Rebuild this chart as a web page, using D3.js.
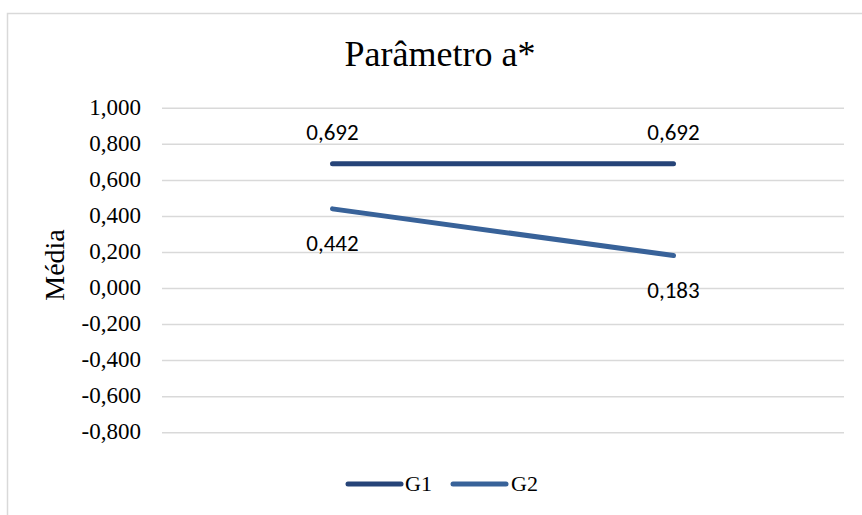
<!DOCTYPE html>
<html>
<head>
<meta charset="utf-8">
<script src="https://cdn.jsdelivr.net/npm/d3@7"></script>
<style>
  html, body { margin: 0; padding: 0; background: #fff; }
  svg { display: block; }
  .serif { font-family: "Liberation Serif", "Times New Roman", "DejaVu Serif", serif; }
  .sans { font-family: Carlito, "Liberation Sans", "Noto Sans", sans-serif; }
</style>
</head>
<body>
<script>
// Chart data
const categories = ["Pré", "Pós"];
const seriesNames = ["G1", "G2"];
const g1Values = [0.692, 0.692];
const g2Values = [0.442, 0.183];
const yTicks = [1.0, 0.8, 0.6, 0.4, 0.2, 0.0, -0.2, -0.4, -0.6, -0.8];
const colors = ["#264478", "#386299"];

const W = 862, H = 515;
const svg = d3.select("body").append("svg").attr("width", W).attr("height", H);

// Outer chart frame
svg.append("rect")
  .attr("x", 7.5).attr("y", 13.5)
  .attr("width", 880).attr("height", 520)
  .attr("fill", "#fff").attr("stroke", "#d9d9d9").attr("stroke-width", 1.5);

const plot = { left: 162, right: 844, top: 108.3, bottom: 432.7 };

const x = d3.scaleBand().domain(categories).range([plot.left, plot.right]);
const y = d3.scaleLinear().domain([-0.8, 1.0]).range([plot.bottom, plot.top]);
const fmt = v => d3.format(".3f")(v).replace(".", ",").replace("−", "-");

// Gridlines
svg.append("g").selectAll("line").data(yTicks).join("line")
  .attr("x1", plot.left).attr("x2", plot.right)
  .attr("y1", d => y(d)).attr("y2", d => y(d))
  .attr("stroke", "#d9d9d9").attr("stroke-width", 1.5);

// Y axis labels
const yAxis = d3.axisLeft(y).tickValues(yTicks).tickFormat(fmt).tickSize(0).tickPadding(0);
const gy = svg.append("g").attr("transform", `translate(141,0)`).call(yAxis)
  .attr("font-family", null).attr("font-size", null);
gy.select(".domain").remove();
gy.selectAll("text")
  .attr("class", "serif")
  .style("font-size", "23px").attr("fill", "#000").attr("dy", "0.25em");

// Title
svg.append("text").attr("class", "serif")
  .attr("x", 440).attr("y", 66).attr("text-anchor", "middle")
  .style("font-size", "36px").attr("fill", "#000").text("Parâmetro a*");

// Y axis title
svg.append("text").attr("class", "serif")
  .attr("transform", "translate(64,265) rotate(-90)")
  .attr("text-anchor", "middle")
  .style("font-size", "28px").attr("fill", "#000").text("Média");

// Lines
const series = [g1Values, g2Values];
const line = d3.line().x((d, i) => x(categories[i]) + x.bandwidth() / 2).y(d => y(d));
svg.append("g").selectAll("path").data(series).join("path")
  .attr("d", d => line(d))
  .attr("fill", "none")
  .attr("stroke", (d, i) => colors[i])
  .attr("stroke-width", 5)
  .attr("stroke-linecap", "round");

// Data labels: G1 above, G2 below
series.forEach((vals, si) => {
  svg.append("g").selectAll("text").data(vals).join("text")
    .attr("class", "sans")
    .attr("x", (d, i) => x(categories[i]) + x.bandwidth() / 2)
    .attr("y", d => si === 0 ? y(d) - 24 : y(d) + 42)
    .attr("text-anchor", "middle")
    .style("font-size", "23px").attr("fill", "#000")
    .text(d => fmt(d));
});

// Legend
const legend = [{ x0: 348, tx: 405 }, { x0: 453, tx: 511 }];
legend.forEach((p, i) => {
  svg.append("line")
    .attr("x1", p.x0).attr("x2", p.x0 + 53)
    .attr("y1", 484).attr("y2", 484)
    .attr("stroke", colors[i]).attr("stroke-width", 5).attr("stroke-linecap", "round");
  svg.append("text").attr("class", "serif").attr("x", p.tx).attr("y", 491)
    .style("font-size", "22px").attr("fill", "#000").text(seriesNames[i]);
});
</script>
</body>
</html>
